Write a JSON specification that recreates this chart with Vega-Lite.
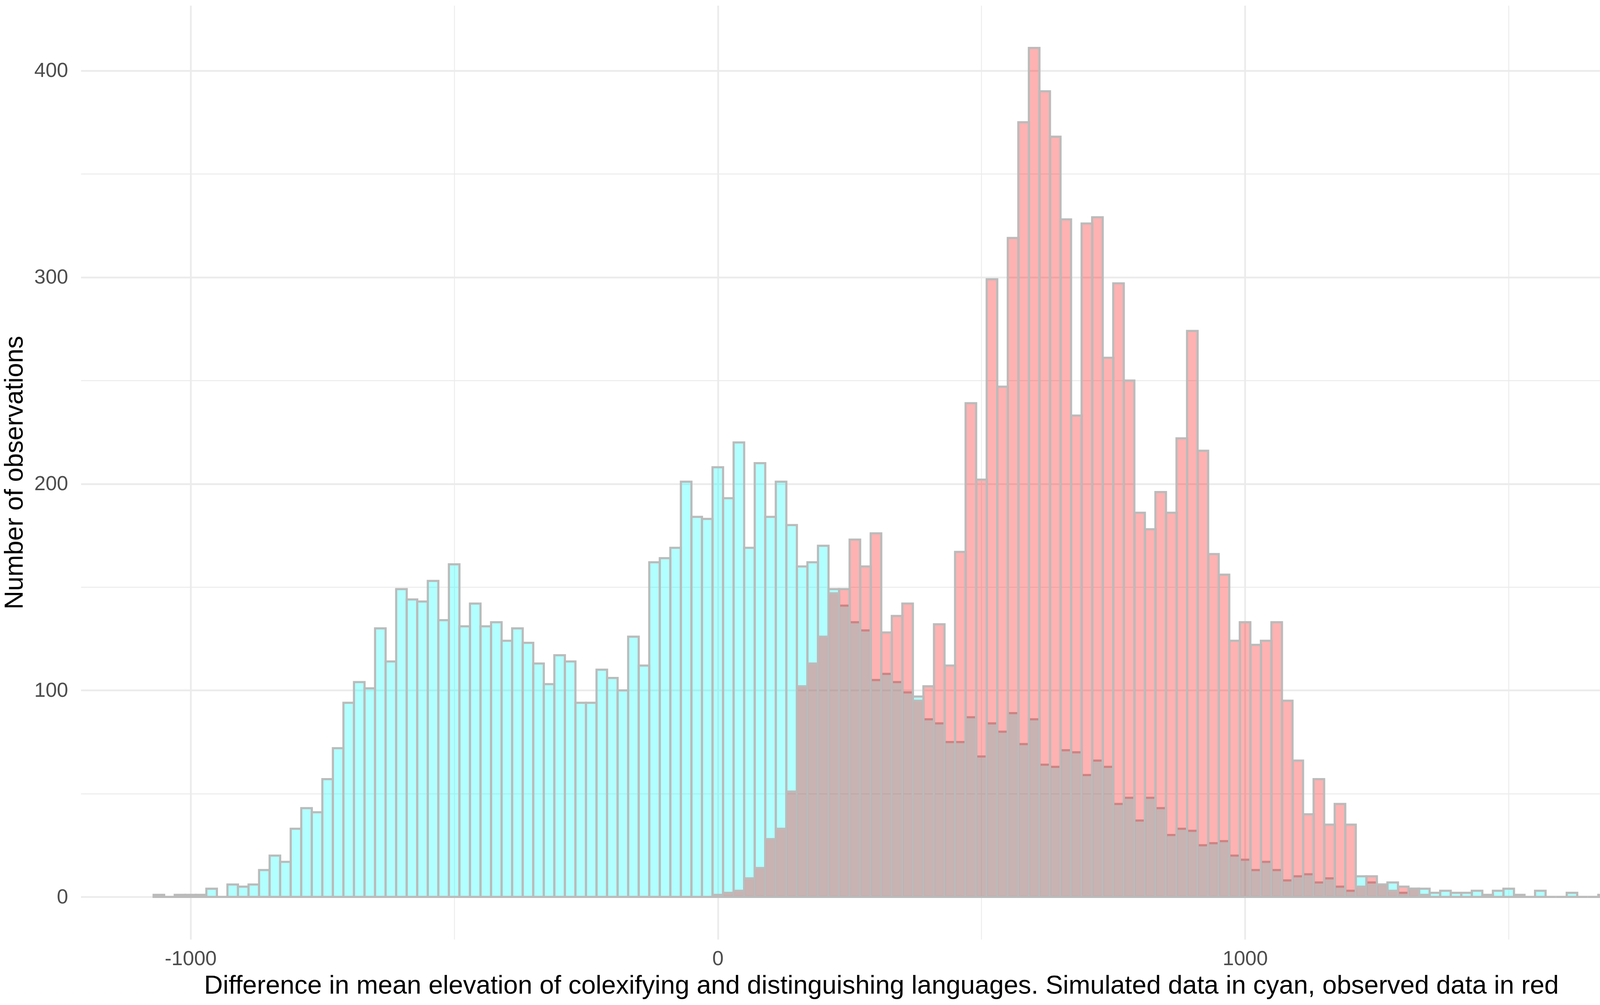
{
  "$schema": "https://vega.github.io/schema/vega-lite/v6.json",
  "autosize": {"type": "none"},
  "padding": {"left": 207, "top": 14, "right": 8, "bottom": 168},
  "width": 4098,
  "height": 2391,
  "background": "white",
  "config": {"view": {"stroke": null}},
  "data": {"values": [
    {"s":"sim","x0":-1070,"x1":-1050,"n":1},
    {"s":"sim","x0":-1050,"x1":-1030,"n":0},
    {"s":"sim","x0":-1030,"x1":-1010,"n":1},
    {"s":"sim","x0":-1010,"x1":-990,"n":1},
    {"s":"sim","x0":-990,"x1":-970,"n":1},
    {"s":"sim","x0":-970,"x1":-950,"n":4},
    {"s":"sim","x0":-950,"x1":-930,"n":0},
    {"s":"sim","x0":-930,"x1":-910,"n":6},
    {"s":"sim","x0":-910,"x1":-890,"n":5},
    {"s":"sim","x0":-890,"x1":-870,"n":6},
    {"s":"sim","x0":-870,"x1":-850,"n":13},
    {"s":"sim","x0":-850,"x1":-830,"n":20},
    {"s":"sim","x0":-830,"x1":-810,"n":17},
    {"s":"sim","x0":-810,"x1":-790,"n":33},
    {"s":"sim","x0":-790,"x1":-770,"n":43},
    {"s":"sim","x0":-770,"x1":-750,"n":41},
    {"s":"sim","x0":-750,"x1":-730,"n":57},
    {"s":"sim","x0":-730,"x1":-710,"n":72},
    {"s":"sim","x0":-710,"x1":-690,"n":94},
    {"s":"sim","x0":-690,"x1":-670,"n":104},
    {"s":"sim","x0":-670,"x1":-650,"n":101},
    {"s":"sim","x0":-650,"x1":-630,"n":130},
    {"s":"sim","x0":-630,"x1":-610,"n":114},
    {"s":"sim","x0":-610,"x1":-590,"n":149},
    {"s":"sim","x0":-590,"x1":-570,"n":144},
    {"s":"sim","x0":-570,"x1":-550,"n":143},
    {"s":"sim","x0":-550,"x1":-530,"n":153},
    {"s":"sim","x0":-530,"x1":-510,"n":134},
    {"s":"sim","x0":-510,"x1":-490,"n":161},
    {"s":"sim","x0":-490,"x1":-470,"n":131},
    {"s":"sim","x0":-470,"x1":-450,"n":142},
    {"s":"sim","x0":-450,"x1":-430,"n":131},
    {"s":"sim","x0":-430,"x1":-410,"n":133},
    {"s":"sim","x0":-410,"x1":-390,"n":124},
    {"s":"sim","x0":-390,"x1":-370,"n":130},
    {"s":"sim","x0":-370,"x1":-350,"n":123},
    {"s":"sim","x0":-350,"x1":-330,"n":113},
    {"s":"sim","x0":-330,"x1":-310,"n":103},
    {"s":"sim","x0":-310,"x1":-290,"n":117},
    {"s":"sim","x0":-290,"x1":-270,"n":114},
    {"s":"sim","x0":-270,"x1":-250,"n":94},
    {"s":"sim","x0":-250,"x1":-230,"n":94},
    {"s":"sim","x0":-230,"x1":-210,"n":110},
    {"s":"sim","x0":-210,"x1":-190,"n":106},
    {"s":"sim","x0":-190,"x1":-170,"n":100},
    {"s":"sim","x0":-170,"x1":-150,"n":126},
    {"s":"sim","x0":-150,"x1":-130,"n":112},
    {"s":"sim","x0":-130,"x1":-110,"n":162},
    {"s":"sim","x0":-110,"x1":-90,"n":164},
    {"s":"sim","x0":-90,"x1":-70,"n":169},
    {"s":"sim","x0":-70,"x1":-50,"n":201},
    {"s":"sim","x0":-50,"x1":-30,"n":184},
    {"s":"sim","x0":-30,"x1":-10,"n":183},
    {"s":"sim","x0":-10,"x1":10,"n":208},
    {"s":"sim","x0":10,"x1":30,"n":193},
    {"s":"sim","x0":30,"x1":50,"n":220},
    {"s":"sim","x0":50,"x1":70,"n":169},
    {"s":"sim","x0":70,"x1":90,"n":210},
    {"s":"sim","x0":90,"x1":110,"n":184},
    {"s":"sim","x0":110,"x1":130,"n":201},
    {"s":"sim","x0":130,"x1":150,"n":180},
    {"s":"sim","x0":150,"x1":170,"n":160},
    {"s":"sim","x0":170,"x1":190,"n":162},
    {"s":"sim","x0":190,"x1":210,"n":170},
    {"s":"sim","x0":210,"x1":230,"n":149},
    {"s":"sim","x0":230,"x1":250,"n":141},
    {"s":"sim","x0":250,"x1":270,"n":133},
    {"s":"sim","x0":270,"x1":290,"n":129},
    {"s":"sim","x0":290,"x1":310,"n":105},
    {"s":"sim","x0":310,"x1":330,"n":108},
    {"s":"sim","x0":330,"x1":350,"n":104},
    {"s":"sim","x0":350,"x1":370,"n":99},
    {"s":"sim","x0":370,"x1":390,"n":97},
    {"s":"sim","x0":390,"x1":410,"n":86},
    {"s":"sim","x0":410,"x1":430,"n":84},
    {"s":"sim","x0":430,"x1":450,"n":75},
    {"s":"sim","x0":450,"x1":470,"n":75},
    {"s":"sim","x0":470,"x1":490,"n":87},
    {"s":"sim","x0":490,"x1":510,"n":68},
    {"s":"sim","x0":510,"x1":530,"n":84},
    {"s":"sim","x0":530,"x1":550,"n":80},
    {"s":"sim","x0":550,"x1":570,"n":89},
    {"s":"sim","x0":570,"x1":590,"n":74},
    {"s":"sim","x0":590,"x1":610,"n":86},
    {"s":"sim","x0":610,"x1":630,"n":64},
    {"s":"sim","x0":630,"x1":650,"n":63},
    {"s":"sim","x0":650,"x1":670,"n":71},
    {"s":"sim","x0":670,"x1":690,"n":70},
    {"s":"sim","x0":690,"x1":710,"n":59},
    {"s":"sim","x0":710,"x1":730,"n":66},
    {"s":"sim","x0":730,"x1":750,"n":63},
    {"s":"sim","x0":750,"x1":770,"n":45},
    {"s":"sim","x0":770,"x1":790,"n":48},
    {"s":"sim","x0":790,"x1":810,"n":37},
    {"s":"sim","x0":810,"x1":830,"n":48},
    {"s":"sim","x0":830,"x1":850,"n":43},
    {"s":"sim","x0":850,"x1":870,"n":30},
    {"s":"sim","x0":870,"x1":890,"n":33},
    {"s":"sim","x0":890,"x1":910,"n":32},
    {"s":"sim","x0":910,"x1":930,"n":25},
    {"s":"sim","x0":930,"x1":950,"n":26},
    {"s":"sim","x0":950,"x1":970,"n":27},
    {"s":"sim","x0":970,"x1":990,"n":20},
    {"s":"sim","x0":990,"x1":1010,"n":18},
    {"s":"sim","x0":1010,"x1":1030,"n":13},
    {"s":"sim","x0":1030,"x1":1050,"n":17},
    {"s":"sim","x0":1050,"x1":1070,"n":13},
    {"s":"sim","x0":1070,"x1":1090,"n":8},
    {"s":"sim","x0":1090,"x1":1110,"n":10},
    {"s":"sim","x0":1110,"x1":1130,"n":11},
    {"s":"sim","x0":1130,"x1":1150,"n":7},
    {"s":"sim","x0":1150,"x1":1170,"n":9},
    {"s":"sim","x0":1170,"x1":1190,"n":5},
    {"s":"sim","x0":1190,"x1":1210,"n":3},
    {"s":"sim","x0":1210,"x1":1230,"n":10},
    {"s":"sim","x0":1230,"x1":1250,"n":7},
    {"s":"sim","x0":1250,"x1":1270,"n":6},
    {"s":"sim","x0":1270,"x1":1290,"n":7},
    {"s":"sim","x0":1290,"x1":1310,"n":2},
    {"s":"sim","x0":1310,"x1":1330,"n":4},
    {"s":"sim","x0":1330,"x1":1350,"n":4},
    {"s":"sim","x0":1350,"x1":1370,"n":2},
    {"s":"sim","x0":1370,"x1":1390,"n":3},
    {"s":"sim","x0":1390,"x1":1410,"n":2},
    {"s":"sim","x0":1410,"x1":1430,"n":2},
    {"s":"sim","x0":1430,"x1":1450,"n":3},
    {"s":"sim","x0":1450,"x1":1470,"n":1},
    {"s":"sim","x0":1470,"x1":1490,"n":3},
    {"s":"sim","x0":1490,"x1":1510,"n":4},
    {"s":"sim","x0":1510,"x1":1530,"n":1},
    {"s":"sim","x0":1530,"x1":1550,"n":0},
    {"s":"sim","x0":1550,"x1":1570,"n":3},
    {"s":"sim","x0":1570,"x1":1590,"n":0},
    {"s":"sim","x0":1590,"x1":1610,"n":0},
    {"s":"sim","x0":1610,"x1":1630,"n":2},
    {"s":"sim","x0":1630,"x1":1650,"n":0},
    {"s":"sim","x0":1650,"x1":1670,"n":0},
    {"s":"sim","x0":1670,"x1":1690,"n":1},
    {"s":"obs","x0":-10,"x1":10,"n":1},
    {"s":"obs","x0":10,"x1":30,"n":2},
    {"s":"obs","x0":30,"x1":50,"n":3},
    {"s":"obs","x0":50,"x1":70,"n":9},
    {"s":"obs","x0":70,"x1":90,"n":14},
    {"s":"obs","x0":90,"x1":110,"n":28},
    {"s":"obs","x0":110,"x1":130,"n":33},
    {"s":"obs","x0":130,"x1":150,"n":51},
    {"s":"obs","x0":150,"x1":170,"n":102},
    {"s":"obs","x0":170,"x1":190,"n":113},
    {"s":"obs","x0":190,"x1":210,"n":126},
    {"s":"obs","x0":210,"x1":230,"n":147},
    {"s":"obs","x0":230,"x1":250,"n":149},
    {"s":"obs","x0":250,"x1":270,"n":173},
    {"s":"obs","x0":270,"x1":290,"n":160},
    {"s":"obs","x0":290,"x1":310,"n":176},
    {"s":"obs","x0":310,"x1":330,"n":128},
    {"s":"obs","x0":330,"x1":350,"n":136},
    {"s":"obs","x0":350,"x1":370,"n":142},
    {"s":"obs","x0":370,"x1":390,"n":95},
    {"s":"obs","x0":390,"x1":410,"n":102},
    {"s":"obs","x0":410,"x1":430,"n":132},
    {"s":"obs","x0":430,"x1":450,"n":112},
    {"s":"obs","x0":450,"x1":470,"n":167},
    {"s":"obs","x0":470,"x1":490,"n":239},
    {"s":"obs","x0":490,"x1":510,"n":202},
    {"s":"obs","x0":510,"x1":530,"n":299},
    {"s":"obs","x0":530,"x1":550,"n":247},
    {"s":"obs","x0":550,"x1":570,"n":319},
    {"s":"obs","x0":570,"x1":590,"n":375},
    {"s":"obs","x0":590,"x1":610,"n":411},
    {"s":"obs","x0":610,"x1":630,"n":390},
    {"s":"obs","x0":630,"x1":650,"n":368},
    {"s":"obs","x0":650,"x1":670,"n":328},
    {"s":"obs","x0":670,"x1":690,"n":233},
    {"s":"obs","x0":690,"x1":710,"n":326},
    {"s":"obs","x0":710,"x1":730,"n":329},
    {"s":"obs","x0":730,"x1":750,"n":261},
    {"s":"obs","x0":750,"x1":770,"n":297},
    {"s":"obs","x0":770,"x1":790,"n":250},
    {"s":"obs","x0":790,"x1":810,"n":186},
    {"s":"obs","x0":810,"x1":830,"n":178},
    {"s":"obs","x0":830,"x1":850,"n":196},
    {"s":"obs","x0":850,"x1":870,"n":186},
    {"s":"obs","x0":870,"x1":890,"n":222},
    {"s":"obs","x0":890,"x1":910,"n":274},
    {"s":"obs","x0":910,"x1":930,"n":216},
    {"s":"obs","x0":930,"x1":950,"n":166},
    {"s":"obs","x0":950,"x1":970,"n":156},
    {"s":"obs","x0":970,"x1":990,"n":124},
    {"s":"obs","x0":990,"x1":1010,"n":133},
    {"s":"obs","x0":1010,"x1":1030,"n":122},
    {"s":"obs","x0":1030,"x1":1050,"n":124},
    {"s":"obs","x0":1050,"x1":1070,"n":133},
    {"s":"obs","x0":1070,"x1":1090,"n":95},
    {"s":"obs","x0":1090,"x1":1110,"n":66},
    {"s":"obs","x0":1110,"x1":1130,"n":40},
    {"s":"obs","x0":1130,"x1":1150,"n":57},
    {"s":"obs","x0":1150,"x1":1170,"n":35},
    {"s":"obs","x0":1170,"x1":1190,"n":45},
    {"s":"obs","x0":1190,"x1":1210,"n":35},
    {"s":"obs","x0":1210,"x1":1230,"n":5},
    {"s":"obs","x0":1230,"x1":1250,"n":10},
    {"s":"obs","x0":1250,"x1":1270,"n":6},
    {"s":"obs","x0":1270,"x1":1290,"n":3},
    {"s":"obs","x0":1290,"x1":1310,"n":5},
    {"s":"obs","x0":1310,"x1":1330,"n":4},
    {"s":"obs","x0":1330,"x1":1350,"n":1}
  ]},
  "mark": {"type": "rect", "fillOpacity": 0.3, "stroke": "#BBBBBB", "strokeWidth": 5.5, "strokeOpacity": 1},
  "encoding": {
    "x": {
      "field": "x0", "type": "quantitative",
      "scale": {"domain": [-1208, 1828], "nice": false, "zero": false},
      "axis": {
        "values": [-1000, -500, 0, 500, 1000, 1500],
        "grid": true, "gridColor": "#EBEBEB",
        "gridWidth": {"condition": {"test": "datum.value % 1000 === 0", "value": 4.5}, "value": 2.3},
        "domain": false, "ticks": false, "tickSize": 0,
        "labelExpr": "datum.value % 1000 === 0 ? '' + datum.value : ''",
        "labelFlush": false, "labelOverlap": false,
        "labelFont": "Liberation Sans", "labelFontSize": 52, "labelColor": "#4D4D4D", "labelPadding": 24,
        "title": "Difference in mean elevation of colexifying and distinguishing languages. Simulated data in cyan, observed data in red",
        "titleFont": "Liberation Sans", "titleFontSize": 66.4, "titleFontWeight": "normal", "titleColor": "#000000", "titlePadding": 11
      }
    },
    "x2": {"field": "x1"},
    "y": {
      "field": "n", "type": "quantitative",
      "scale": {"domain": [-20.55, 431.55], "nice": false, "zero": false},
      "axis": {
        "values": [0, 50, 100, 150, 200, 250, 300, 350, 400],
        "grid": true, "gridColor": "#EBEBEB",
        "gridWidth": {"condition": {"test": "datum.value % 100 === 0", "value": 4.5}, "value": 2.3},
        "domain": false, "ticks": false, "tickSize": 0,
        "labelExpr": "datum.value % 100 === 0 ? '' + datum.value : ''",
        "labelOverlap": false,
        "labelFont": "Liberation Sans", "labelFontSize": 52, "labelColor": "#4D4D4D", "labelPadding": 33,
        "title": "Number of observations",
        "titleFont": "Liberation Sans", "titleFontSize": 66, "titleFontWeight": "normal", "titleColor": "#000000", "titlePadding": 16
      }
    },
    "y2": {"datum": 0},
    "color": {"field": "s", "type": "nominal", "scale": {"domain": ["sim", "obs"], "range": ["#00FFFF", "#FF0000"]}, "legend": null}
  }
}
